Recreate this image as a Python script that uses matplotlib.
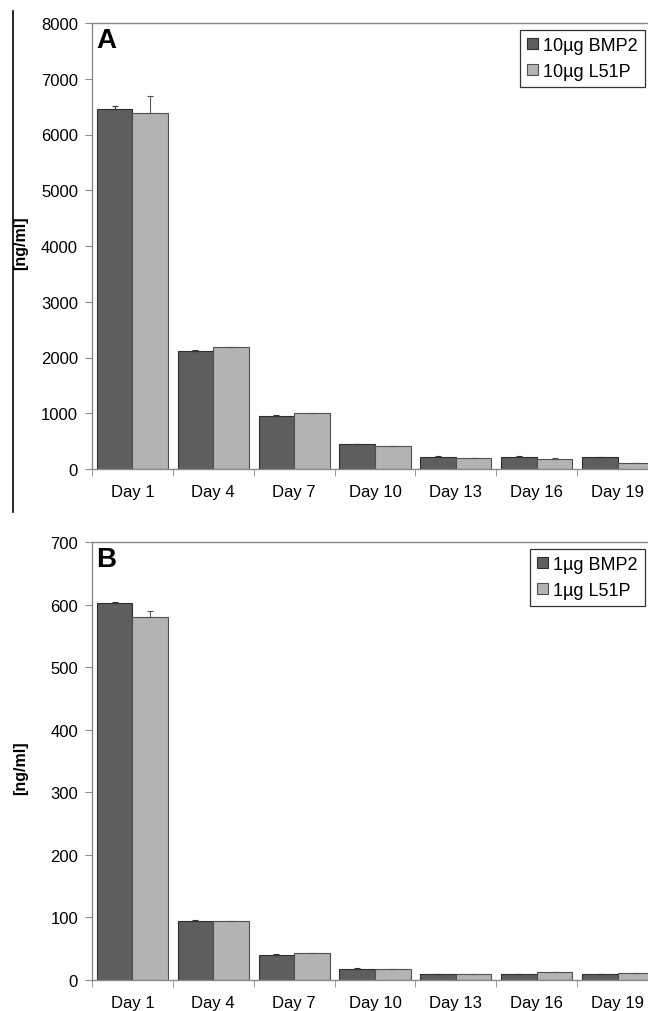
import matplotlib
matplotlib.use("Agg")
import matplotlib.pyplot as plt
import numpy as np
from matplotlib.lines import Line2D
from matplotlib.patches import Patch

plt.rcParams['font.family'] = ['Liberation Sans', 'DejaVu Sans']

days = ["Day 1", "Day 4", "Day 7", "Day 10", "Day 13", "Day 16", "Day 19"]

# Panel A (10 µg)
a_bmp2 = [6450, 2120, 950, 450, 220, 220, 210]
a_bmp2_err = [60, 10, 15, 5, 5, 5, 5]
a_l51p = [6390, 2180, 1000, 410, 190, 185, 100]
a_l51p_err = [300, 15, 5, 5, 5, 5, 5]

# Panel B (1 µg)
b_bmp2 = [603, 95, 40, 18, 9, 10, 9]
b_bmp2_err = [1.5, 0.5, 1.0, 0.5, 0.4, 0.3, 0.3]
b_l51p = [580, 94, 43, 17, 9, 12, 11]
b_l51p_err = [10, 0.8, 0.4, 0.6, 0.3, 0.5, 0.6]

W, H = 648, 1012
fig = plt.figure(figsize=(W / 100, H / 100), dpi=100)

dark = '#5e5e5e'
light = '#b3b3b3'
spine_c = '#8a8a8a'


def panel(rect, v1, e1, v2, e2, ymax, ystep, letter, labels):
    ax = fig.add_axes(rect)
    x = np.arange(len(days))
    w = 0.44
    ax.bar(x - w / 2, v1, w, color=dark, edgecolor='#2e2e2e', linewidth=0.8,
           yerr=[np.zeros(len(e1)), e1], error_kw=dict(ecolor='#333333', elinewidth=0.8, capsize=2, capthick=0.8))
    ax.bar(x + w / 2, v2, w, color=light, edgecolor='#505050', linewidth=0.8,
           yerr=[np.zeros(len(e2)), e2], error_kw=dict(ecolor='#555555', elinewidth=0.8, capsize=2, capthick=0.8))
    ax.set_xlim(-0.5, len(days) - 0.5)
    ax.set_ylim(0, ymax)
    ax.set_yticks(np.arange(0, ymax + 1, ystep))
    ax.set_xticks(x)
    ax.set_xticklabels(days)
    ax.set_xticks(np.arange(-0.5, len(days) + 0.5, 1), minor=True)
    ax.tick_params(axis='x', which='major', length=0, pad=11, labelsize=12)
    ax.tick_params(axis='x', which='minor', length=5, color=spine_c, direction='out')
    ax.tick_params(axis='y', length=5, color=spine_c, direction='out', labelsize=12, pad=5)
    for s in ['left', 'top', 'bottom', 'right']:
        ax.spines[s].set_color(spine_c)
        ax.spines[s].set_linewidth(1.0)
    ax.text(0.008, 0.99, letter, transform=ax.transAxes, ha='left', va='top',
            fontsize=20, fontweight='bold')
    handles = [Patch(facecolor=dark, edgecolor='#2e2e2e', linewidth=0.8),
               Patch(facecolor=light, edgecolor='#505050', linewidth=0.8)]
    leg = ax.legend(handles, labels, loc='upper right', bbox_to_anchor=(0.977, 0.985),
                    fancybox=False, framealpha=1, edgecolor='#333333', fontsize=13,
                    handlelength=0.6, handleheight=0.6, handletextpad=0.3,
                    borderpad=0.4, labelspacing=0.5, borderaxespad=0)
    leg.get_frame().set_linewidth(0.9)
    return ax


axA = panel([92 / W, 1 - 470 / H, 566 / W, 446 / H], a_bmp2, a_bmp2_err, a_l51p, a_l51p_err,
            8000, 1000, 'A', ['10µg BMP2', '10µg L51P'])
axB = panel([92 / W, 1 - 981 / H, 566 / W, 438 / H], b_bmp2, b_bmp2_err, b_l51p, b_l51p_err,
            700, 100, 'B', ['1µg BMP2', '1µg L51P'])

fig.text(21 / W, 1 - 243 / H, '[ng/ml]', rotation=90, ha='center', va='center',
         fontsize=11.5, fontweight='bold')
fig.text(21 / W, 1 - 768 / H, '[ng/ml]', rotation=90, ha='center', va='center',
         fontsize=11.5, fontweight='bold')

fig.add_artist(Line2D([13 / W, 13 / W], [1 - 12 / H, 1 - 513 / H], color='black',
                      linewidth=1.2, transform=fig.transFigure))

fig.savefig('out.png', dpi=100)
